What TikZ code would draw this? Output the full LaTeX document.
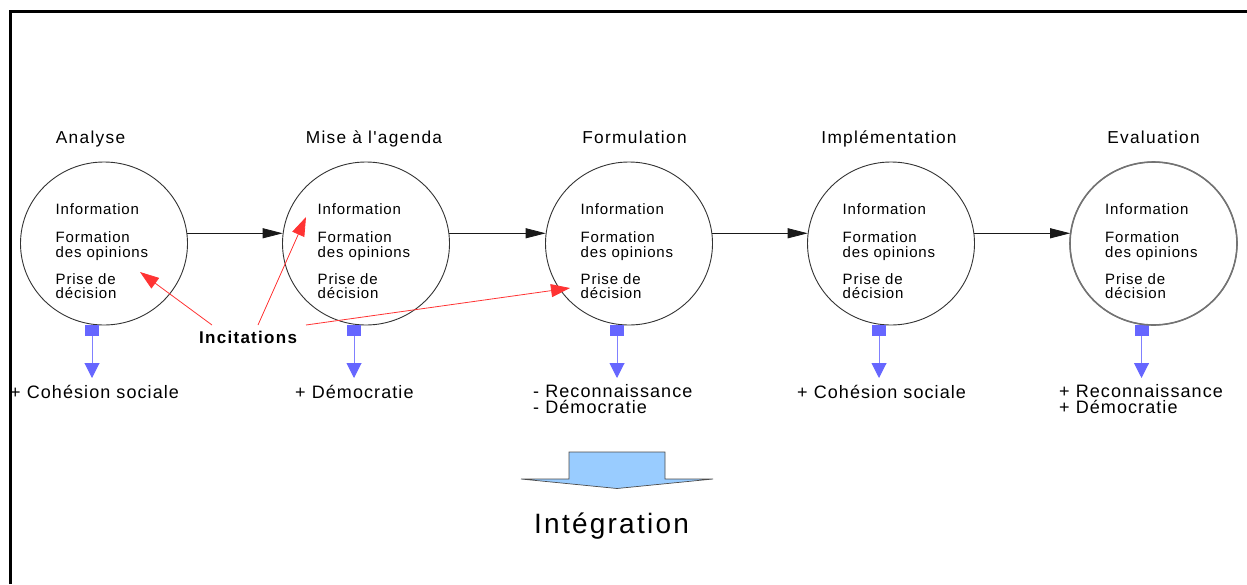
\documentclass[tikz,border=0pt]{standalone}
\usepackage{fontspec}
\setmainfont{Liberation Sans}
\newfontfamily\itemfont{Liberation Sans}[LetterSpace=5.5]
\newfontfamily\titlefont{Liberation Sans}[LetterSpace=7.5]
\newfontfamily\resultfont{Liberation Sans}[LetterSpace=6]
\newfontfamily\incfont{Liberation Sans}[LetterSpace=7.5]
\newfontfamily\integfont{Liberation Sans}[LetterSpace=8]
\usetikzlibrary{arrows.meta,shapes.geometric,calc}
\definecolor{blockblue}{HTML}{99CCFF}
\definecolor{markblue}{HTML}{6666FF}
\definecolor{lineblue}{HTML}{8080FF}
\definecolor{incred}{HTML}{FF3333}
\begin{document}
\begin{tikzpicture}[x=1pt,y=-1pt,
  phase/.style={ellipse,draw=black!80,line width=0.9pt,minimum width=167pt,minimum height=163pt,inner sep=0pt},
  phasetitle/.style={font=\titlefont\fontsize{17.3}{19}\selectfont,anchor=base,inner sep=0pt},
  item/.style={font=\itemfont\fontsize{15}{17}\selectfont,anchor=base west,inner sep=0pt},
  result/.style={font=\resultfont\fontsize{18}{15.6}\selectfont,anchor=base west,align=left,inner sep=0pt},
  flow/.style={-{Triangle[length=20pt,width=10pt]},line width=0.8pt,draw=black!90},
  outbox/.style={rectangle,fill=markblue,minimum width=14pt,minimum height=11pt,inner sep=0pt},
  outarrow/.style={-{Triangle[length=15pt,width=15pt,color=markblue]},draw=lineblue,line width=1pt},
  push/.style={-{Triangle[length=19pt,width=13pt]},draw=incred,line width=0.8pt},
]
\useasboundingbox (0,0) rectangle (1247,584);

% outer frame (left and top edges)
\draw[line width=3pt] (10,584) -- (10,11.5) -- (1247,11.5);

% the five phases
\foreach \i/\cx in {1/104,2/366,3/629,4/891,5/1153.5}{
  \node[phase] (c\i) at (\cx,243.5) {};
  \node[item] (info\i) at (\cx-48.5,214) {Information};
  \node[item] (form\i) at (\cx-48.5,242) {Formation};
  \node[item] (opin\i) at (\cx-48.5,257) {des opinions};
  \node[item] (prise\i) at (\cx-48.5,284) {Prise de};
  \node[item] (deci\i) at (\cx-48.5,298) {décision};
  \node[outbox] (o\i) at (\cx-12,330.5) {};
  \coordinate (ot\i) at (\cx-12,378);
  \draw[outarrow] (o\i.south) -- (ot\i);
}
\draw[draw=black!55,line width=1.6pt] (c5.center) ellipse [x radius=83.5pt,y radius=81.5pt];

% phase titles
\node[phasetitle] (t1) at (90.5,143) {Analyse};
\node[phasetitle] (t2) at (374,143) {Mise à l'agenda};
\node[phasetitle] (t3) at (634.5,143) {Formulation};
\node[phasetitle] (t4) at (889,143) {Implémentation};
\node[phasetitle] (t5) at (1153.5,143) {Evaluation};

% sequence of phases
\draw[flow] (c1.7) -- (c2.173);
\draw[flow] (c2.7) -- (c3.173);
\draw[flow] (c3.7) -- (c4.173);
\draw[flow] (c4.7) -- (c5.173);

% effects of each phase
\node[result] (r1) at (10,398) {+ Cohésion sociale};
\node[result] (r2) at (295,398) {+ Démocratie};
\node[result] (r3) at (533,413.3) {- Reconnaissance\\- Démocratie};
\node[result] (r4) at (797,398) {+ Cohésion sociale};
\node[result] (r5) at (1059,413.3) {+ Reconnaissance\\+ Démocratie};

% incentives
\node[font=\incfont\bfseries\fontsize{17}{19}\selectfont,anchor=base west,inner sep=0pt] (inc) at (199,343) {Incitations};
\coordinate (s1) at (212,325);
\coordinate (s2) at (258,325);
\coordinate (s3) at (306,325);
\coordinate (e1) at (140,272);
\coordinate (e2) at (306,217);
\coordinate (e3) at (570,288);
\draw[push] (s1) -- (e1);
\draw[push] (s2) -- (e2);
\draw[push] (s3) -- (e3);

% integration block arrow
\draw[fill=blockblue,draw=black!70,line width=0.7pt]
  (569,452) -- (665,452) -- (665,479) -- (713,479) -- (617,488.5)
  -- (521,479) -- (569,479) -- cycle;
\node[font=\integfont\fontsize{28}{32}\selectfont,anchor=base west,inner sep=0pt] (integ) at (534,533) {Intégration};
\end{tikzpicture}
\end{document}
